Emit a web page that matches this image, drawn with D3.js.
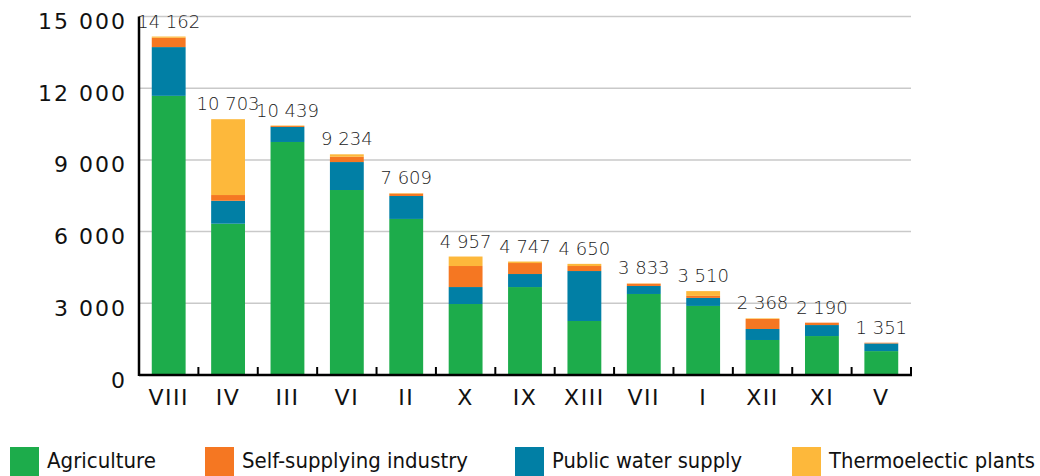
<!DOCTYPE html>
<html>
<head>
<meta charset="utf-8">
<script src="https://cdn.jsdelivr.net/npm/d3@7"></script>
<style>
  html, body { margin: 0; padding: 0; background: #fff; }
  svg { display: block; }
</style>
</head>
<body>
<svg id="chart" width="1040" height="476"></svg>
<script>
const categories = ["VIII","IV","III","VI","II","X","IX","XIII","VII","I","XII","XI","V"];
const agriculture = [11680, 6330, 9750, 7740, 6530, 2970, 3680, 2260, 3390, 2890, 1465, 1630, 1000];
const publicWater = [2040, 960, 630, 1170, 960, 710, 545, 2090, 335, 335, 460, 460, 320];
const industry    = [390, 240, 40, 220, 100, 880, 460, 210, 95, 85, 418, 100, 31];
const thermo      = [52, 3173, 19, 104, 19, 397, 62, 90, 13, 200, 25, 0, 0];
const totals      = [14162, 10703, 10439, 9234, 7609, 4957, 4747, 4650, 3833, 3510, 2368, 2190, 1351];
const yTicks      = [0, 3000, 6000, 9000, 12000, 15000];
const seriesNames = ["Agriculture","Self-supplying industry","Public water supply","Thermoelectic plants"];
const seriesColors = ["#1dac4b","#f57722","#017fa5","#fdb83b"];

const svg = d3.select("#chart");
const mLeft = 139, mRight = 911, mTop = 16.5, mBottom = 375;

const x = d3.scaleBand().domain(categories).range([mLeft, mRight]).paddingInner(0.43).paddingOuter(0.215);
const y = d3.scaleLinear().domain([0, 15000]).range([mBottom, mTop]);

const loc = d3.formatLocale({decimal: ".", thousands: " ", grouping: [3], currency: ["", ""]});
const fmt = loc.format(",d");

// gridlines
svg.append("g").selectAll("line").data(yTicks.filter(d => d > 0)).join("line")
  .attr("x1", mLeft).attr("x2", mRight)
  .attr("y1", d => y(d)).attr("y2", d => y(d))
  .attr("stroke", "#c9c9c9").attr("stroke-width", 1.5);

const rows = categories.map((c, i) => ({cat: c, agri: agriculture[i], pub: publicWater[i], ind: industry[i], th: thermo[i]}));
const keys = ["agri", "pub", "ind", "th"];
const keyColor = {agri: seriesColors[0], ind: seriesColors[1], pub: seriesColors[2], th: seriesColors[3]};
const stacked = d3.stack().keys(keys)(rows);

svg.append("g").selectAll("g").data(stacked).join("g")
  .attr("fill", s => keyColor[s.key])
  .selectAll("rect").data(s => s).join("rect")
  .attr("x", d => x(d.data.cat))
  .attr("width", x.bandwidth())
  .attr("y", d => y(d[1]))
  .attr("height", d => Math.max(0, y(d[0]) - y(d[1])));

// total labels
svg.append("g").selectAll("text").data(categories).join("text")
  .attr("x", d => x(d) + x.bandwidth() / 2)
  .attr("y", (d, i) => y(totals[i]) - 9)
  .attr("text-anchor", "middle")
  .attr("font-family", "DejaVu Sans")
  .attr("font-weight", 300)
  .attr("font-size", 18)
  .attr("fill", "#222")
  .text((d, i) => fmt(totals[i]));

// y axis
const yAxis = d3.axisLeft(y).tickValues(yTicks).tickSize(0).tickPadding(12).tickFormat(fmt);
const gy = svg.append("g").attr("transform", `translate(${mLeft},0)`).call(yAxis);
gy.select(".domain").remove();
gy.selectAll("text")
  .attr("font-family", "DejaVu Sans")
  .attr("font-size", 22)
  .attr("letter-spacing", 2)
  .attr("fill", "#111")
  .attr("transform", "translate(0,5)");
svg.append("line").attr("x1", mLeft).attr("x2", mLeft).attr("y1", mTop).attr("y2", mBottom + 1)
  .attr("stroke", "#000").attr("stroke-width", 2.5);

// x axis
const xAxis = d3.axisBottom(x).tickSize(0).tickPadding(0);
const gx = svg.append("g").attr("transform", `translate(0,${mBottom})`).call(xAxis);
gx.select(".domain").remove();
gx.selectAll("text")
  .attr("font-family", "DejaVu Sans")
  .attr("font-size", 22)
  .attr("letter-spacing", 1.5)
  .attr("fill", "#111")
  .attr("dy", 0)
  .attr("y", 30);
svg.append("line").attr("x1", mLeft).attr("x2", mRight + 1).attr("y1", mBottom).attr("y2", mBottom)
  .attr("stroke", "#000").attr("stroke-width", 2.5);
const step = x.step();
svg.append("g").selectAll("line").data(categories).join("line")
  .attr("x1", d => x(d) + x.bandwidth() + x.paddingInner() * step / 2)
  .attr("x2", d => x(d) + x.bandwidth() + x.paddingInner() * step / 2)
  .attr("y1", mBottom).attr("y2", mBottom - 8)
  .attr("stroke", "#000").attr("stroke-width", 2);

// legend
const legendX = [10, 205, 515, 792];
const legendW = [109, 226, 190, 206];
const lg = svg.append("g").selectAll("g").data(seriesNames).join("g")
  .attr("transform", (d, i) => `translate(${legendX[i]},447)`);
lg.append("rect").attr("width", 29).attr("height", 30).attr("fill", (d, i) => seriesColors[i]);
lg.append("text").attr("x", 37).attr("y", 21)
  .attr("font-family", "DejaVu Sans Condensed, Liberation Sans Narrow, DejaVu Sans")
  .attr("font-size", 20.5)
  .attr("fill", "#111")
  .attr("textLength", (d, i) => legendW[i])
  .attr("lengthAdjust", "spacingAndGlyphs")
  .text(d => d);
</script>
</body>
</html>
